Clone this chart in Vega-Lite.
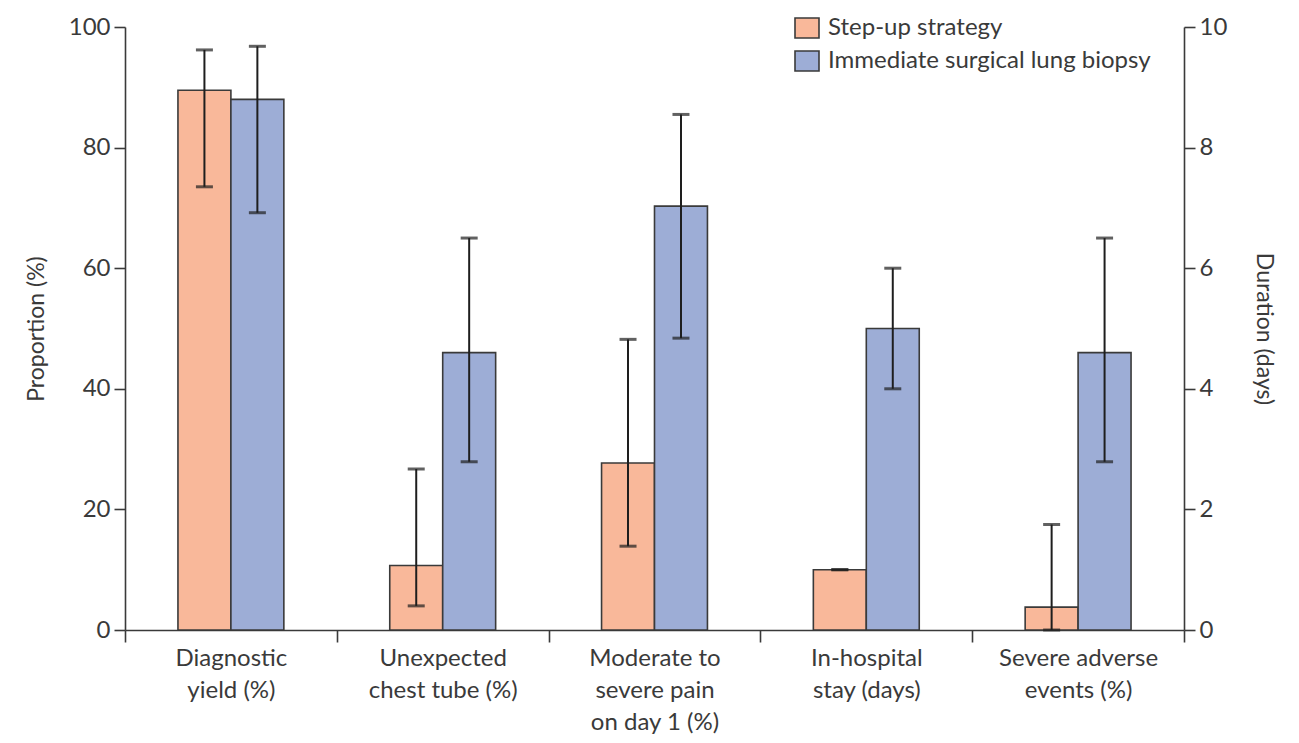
{
  "$schema": "https://vega.github.io/schema/vega-lite/v6.json",
  "width": 1059,
  "height": 603,
  "autosize": "none",
  "padding": {"left": 125, "top": 27, "right": 115, "bottom": 113},
  "background": "white",
  "config": {
    "view": {"stroke": null},
    "font": "Lato",
    "axis": {
      "domainColor": "#3a3a3a", "domainWidth": 1.6,
      "tickColor": "#3a3a3a", "tickWidth": 1.6, "tickSize": 11,
      "labelColor": "#3a3a3a", "labelFont": "Lato", "labelFontSize": 24,
      "titleColor": "#3a3a3a", "titleFont": "Lato", "titleFontSize": 23, "titleFontWeight": "normal",
      "grid": false, "labelPadding": 4
    },
    "legend": {
      "labelFont": "Lato", "labelFontSize": 24, "labelColor": "#3a3a3a"
    }
  },
  "data": {
    "values": [
      {"cat": "Diagnostic|yield (%)", "group": "Step-up strategy", "value": 89.5, "lo": 73.5, "hi": 96.2, "unit": "%"},
      {"cat": "Diagnostic|yield (%)", "group": "Immediate surgical lung biopsy", "value": 88.0, "lo": 69.2, "hi": 96.8, "unit": "%"},
      {"cat": "Unexpected|chest tube (%)", "group": "Step-up strategy", "value": 10.7, "lo": 4.0, "hi": 26.7, "unit": "%"},
      {"cat": "Unexpected|chest tube (%)", "group": "Immediate surgical lung biopsy", "value": 46.0, "lo": 27.9, "hi": 65.0, "unit": "%"},
      {"cat": "Moderate to|severe pain|on day 1 (%)", "group": "Step-up strategy", "value": 27.7, "lo": 13.9, "hi": 48.2, "unit": "%"},
      {"cat": "Moderate to|severe pain|on day 1 (%)", "group": "Immediate surgical lung biopsy", "value": 70.3, "lo": 48.4, "hi": 85.5, "unit": "%"},
      {"cat": "In-hospital|stay (days)", "group": "Step-up strategy", "value": 1.0, "lo": 1.0, "hi": 1.0, "unit": "days"},
      {"cat": "In-hospital|stay (days)", "group": "Immediate surgical lung biopsy", "value": 5.0, "lo": 4.0, "hi": 6.0, "unit": "days"},
      {"cat": "Severe adverse|events (%)", "group": "Step-up strategy", "value": 3.8, "lo": 0.0, "hi": 17.5, "unit": "%"},
      {"cat": "Severe adverse|events (%)", "group": "Immediate surgical lung biopsy", "value": 46.0, "lo": 27.9, "hi": 65.0, "unit": "%"}
    ]
  },
  "encoding": {
    "x": {
      "field": "cat", "type": "nominal",
      "sort": ["Diagnostic|yield (%)", "Unexpected|chest tube (%)", "Moderate to|severe pain|on day 1 (%)", "In-hospital|stay (days)", "Severe adverse|events (%)"],
      "scale": {"paddingInner": 0, "paddingOuter": 0},
      "axis": {"title": null, "labelAngle": 0, "tickBand": "extent", "tickSize": 12, "labelPadding": 4, "labelLineHeight": 32, "labelExpr": "split(datum.label, '|')", "labelBaseline": "top"}
    },
    "xOffset": {
      "field": "group", "type": "nominal",
      "sort": ["Step-up strategy", "Immediate surgical lung biopsy"],
      "scale": {"paddingInner": 0, "paddingOuter": 1.16}
    }
  },
  "layer": [
    {
      "transform": [{"filter": "datum.unit == '%'"}],
      "layer": [
        {
          "mark": {"type": "bar", "stroke": "#3a3a3a", "strokeWidth": 1.6},
          "encoding": {
            "y": {"field": "value", "type": "quantitative", "title": "Proportion (%)", "scale": {"domain": [0, 100]}, "axis": {"values": [0, 20, 40, 60, 80, 100], "titlePadding": 20}},
            "color": {
              "field": "group", "type": "nominal",
              "sort": ["Step-up strategy", "Immediate surgical lung biopsy"],
              "scale": {"domain": ["Step-up strategy", "Immediate surgical lung biopsy"], "range": ["#f9b89a", "#9dadd6"]},
              "legend": {"title": null, "orient": "none", "legendX": 670, "legendY": -11, "symbolType": "M-1.2,-1H1.2V1H-1.2Z", "symbolSize": 400, "symbolStrokeColor": "#3a3a3a", "symbolStrokeWidth": 1.6, "labelOffset": 9, "rowPadding": 5, "padding": 0, "labelLimit": 500}
            }
          }
        },
        {
          "mark": {"type": "rule", "color": "#1e1e1e", "strokeWidth": 2},
          "encoding": {
            "y": {"field": "lo", "type": "quantitative", "title": "Proportion (%)"},
            "y2": {"field": "hi"}
          }
        },
        {
          "mark": {"type": "tick", "color": "#1e1e1e", "size": 17, "thickness": 3},
          "encoding": {"y": {"field": "lo", "type": "quantitative", "title": "Proportion (%)"}}
        },
        {
          "mark": {"type": "tick", "color": "#1e1e1e", "size": 17, "thickness": 3},
          "encoding": {"y": {"field": "hi", "type": "quantitative", "title": "Proportion (%)"}}
        }
      ]
    },
    {
      "transform": [{"filter": "datum.unit == 'days'"}],
      "layer": [
        {
          "mark": {"type": "bar", "stroke": "#3a3a3a", "strokeWidth": 1.6},
          "encoding": {
            "y": {"field": "value", "type": "quantitative", "title": "Duration (days)", "scale": {"domain": [0, 10]}, "axis": {"orient": "right", "values": [0, 2, 4, 6, 8, 10], "format": "d", "titlePadding": 25}},
            "color": {
              "field": "group", "type": "nominal",
              "scale": {"domain": ["Step-up strategy", "Immediate surgical lung biopsy"], "range": ["#f9b89a", "#9dadd6"]},
              "legend": null
            }
          }
        },
        {
          "mark": {"type": "rule", "color": "#1e1e1e", "strokeWidth": 2},
          "encoding": {
            "y": {"field": "lo", "type": "quantitative", "title": "Duration (days)"},
            "y2": {"field": "hi"}
          }
        },
        {
          "mark": {"type": "tick", "color": "#1e1e1e", "size": 17, "thickness": 3},
          "encoding": {"y": {"field": "lo", "type": "quantitative", "title": "Duration (days)"}}
        },
        {
          "mark": {"type": "tick", "color": "#1e1e1e", "size": 17, "thickness": 3},
          "encoding": {"y": {"field": "hi", "type": "quantitative", "title": "Duration (days)"}}
        }
      ]
    }
  ],
  "resolve": {"scale": {"y": "independent"}}
}
